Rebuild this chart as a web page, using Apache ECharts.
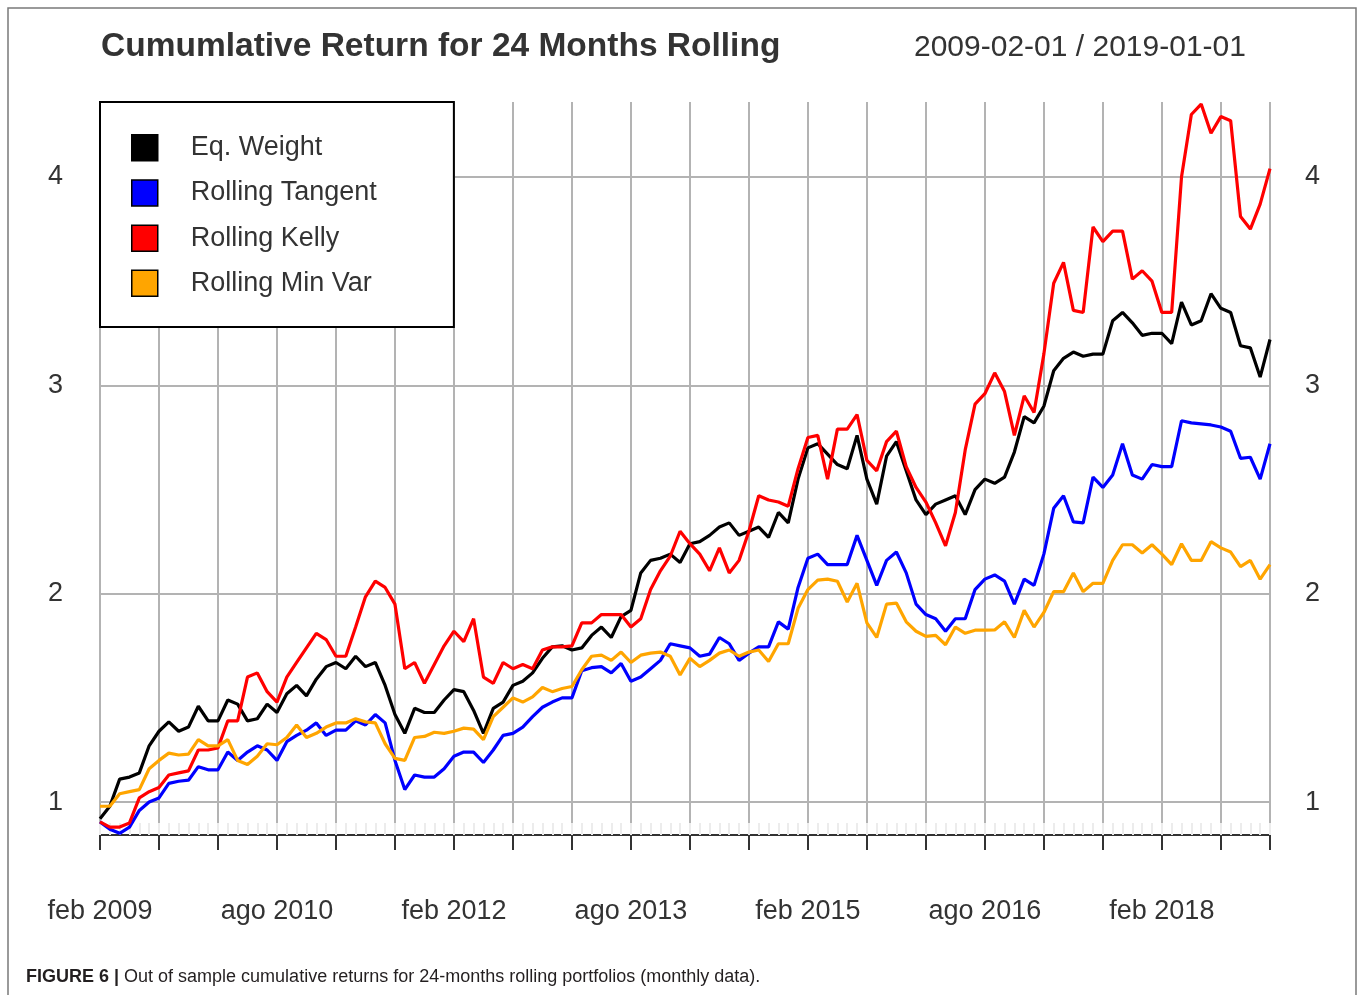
<!DOCTYPE html>
<html>
<head>
<meta charset="utf-8">
<title>Cumulative Return for 24 Months Rolling</title>
<script src="https://cdn.jsdelivr.net/npm/echarts@6/dist/echarts.min.js"></script>
<style>
  html, body { margin: 0; padding: 0; background: #fff; }
  #chart { width: 1357px; height: 995px; }
</style>
</head>
<body>
<div id="chart"></div>
<script>
// monthly observations, feb 2009 .. jan 2019 (120 points)
const eqWeight = [
  0.92, 0.98, 1.11, 1.12, 1.14, 1.27, 1.34, 1.385, 1.34, 1.36,
  1.46, 1.39, 1.39, 1.49, 1.47, 1.39, 1.40, 1.47, 1.43, 1.52,
  1.56, 1.51, 1.59, 1.65, 1.67, 1.64, 1.70, 1.65, 1.67, 1.56,
  1.42, 1.33, 1.45, 1.43, 1.43, 1.49, 1.54, 1.53, 1.44, 1.33,
  1.45, 1.48, 1.56, 1.58, 1.62, 1.69, 1.745, 1.75, 1.73, 1.74,
  1.80, 1.84, 1.79, 1.89, 1.92, 2.10, 2.16, 2.17, 2.19, 2.15,
  2.24, 2.25, 2.28, 2.32, 2.34, 2.28, 2.30, 2.32, 2.27, 2.39,
  2.34, 2.55, 2.70, 2.72, 2.67, 2.62, 2.60, 2.76, 2.55, 2.43,
  2.66, 2.73, 2.59, 2.45, 2.38, 2.43, 2.45, 2.47, 2.38, 2.50,
  2.55, 2.53, 2.56, 2.68, 2.85, 2.82, 2.90, 3.07, 3.13, 3.16,
  3.14, 3.15, 3.15, 3.31, 3.35, 3.30, 3.24, 3.25, 3.25, 3.20,
  3.40, 3.29, 3.31, 3.44, 3.37, 3.35, 3.19, 3.18, 3.04, 3.22
];
const rollingTangent = [
  0.905, 0.87, 0.85, 0.88, 0.96, 1.00, 1.02, 1.09, 1.10, 1.105,
  1.17, 1.155, 1.155, 1.24, 1.20, 1.24, 1.27, 1.25, 1.20, 1.29,
  1.32, 1.345, 1.38, 1.32, 1.345, 1.345, 1.39, 1.37, 1.42, 1.38,
  1.20, 1.06, 1.13, 1.12, 1.12, 1.16, 1.22, 1.24, 1.24, 1.19,
  1.25, 1.32, 1.33, 1.36, 1.41, 1.455, 1.48, 1.50, 1.50, 1.63,
  1.645, 1.65, 1.62, 1.665, 1.58, 1.60, 1.64, 1.68, 1.76, 1.75,
  1.74, 1.70, 1.71, 1.79, 1.76, 1.68, 1.715, 1.745, 1.745, 1.865,
  1.83, 2.03, 2.17, 2.19, 2.14, 2.14, 2.14, 2.28, 2.16, 2.04,
  2.16, 2.20, 2.10, 1.95, 1.90, 1.88, 1.82, 1.88, 1.88, 2.02,
  2.07, 2.09, 2.06, 1.95, 2.07, 2.04, 2.19, 2.41, 2.47, 2.345,
  2.34, 2.56, 2.51, 2.57, 2.72, 2.57, 2.55, 2.62, 2.61, 2.61,
  2.83, 2.82, 2.815, 2.81, 2.80, 2.78, 2.65, 2.655, 2.55, 2.72
];
const rollingKelly = [
  0.905, 0.88, 0.88, 0.90, 1.02, 1.05, 1.07, 1.13, 1.14, 1.15,
  1.25, 1.25, 1.26, 1.39, 1.39, 1.60, 1.62, 1.53, 1.48, 1.60,
  1.67, 1.74, 1.81, 1.78, 1.70, 1.70, 1.84, 1.985, 2.06, 2.03,
  1.95, 1.64, 1.67, 1.57, 1.66, 1.75, 1.82, 1.77, 1.88, 1.60,
  1.57, 1.67, 1.64, 1.66, 1.64, 1.73, 1.745, 1.745, 1.75, 1.86,
  1.86, 1.90, 1.90, 1.90, 1.84, 1.88, 2.02, 2.11, 2.18, 2.30,
  2.24, 2.19, 2.11, 2.22, 2.10, 2.16, 2.30, 2.47, 2.45, 2.44,
  2.42, 2.60, 2.75, 2.76, 2.55, 2.79, 2.79, 2.86, 2.64, 2.59,
  2.73, 2.78, 2.61, 2.51, 2.44, 2.34, 2.23, 2.39, 2.69, 2.91,
  2.96, 3.06, 2.97, 2.76, 2.95, 2.87, 3.15, 3.49, 3.59, 3.36,
  3.35, 3.76, 3.69, 3.74, 3.74, 3.51, 3.55, 3.50, 3.35, 3.35,
  4.00, 4.30, 4.35, 4.21, 4.29, 4.27, 3.81, 3.75, 3.87, 4.04
];
const rollingMinVar = [
  0.98, 0.98, 1.04, 1.05, 1.06, 1.16, 1.20, 1.235, 1.226, 1.23,
  1.30, 1.27, 1.27, 1.30, 1.20, 1.18, 1.22, 1.28, 1.275, 1.31,
  1.37, 1.31, 1.33, 1.36, 1.38, 1.38, 1.40, 1.385, 1.38, 1.28,
  1.21, 1.20, 1.31, 1.315, 1.335, 1.33, 1.34, 1.355, 1.35, 1.30,
  1.41, 1.455, 1.50, 1.48, 1.505, 1.55, 1.53, 1.545, 1.555, 1.635,
  1.70, 1.705, 1.68, 1.72, 1.67, 1.705, 1.715, 1.72, 1.70, 1.61,
  1.69, 1.65, 1.68, 1.715, 1.73, 1.70, 1.72, 1.73, 1.675, 1.76,
  1.76, 1.93, 2.02, 2.065, 2.07, 2.06, 1.96, 2.05, 1.86, 1.79,
  1.95, 1.955, 1.865, 1.82, 1.795, 1.80, 1.755, 1.84, 1.81, 1.825,
  1.825, 1.826, 1.865, 1.79, 1.92, 1.84, 1.91, 2.01, 2.01, 2.10,
  2.01, 2.05, 2.05, 2.16, 2.235, 2.235, 2.195, 2.235, 2.19, 2.14,
  2.24, 2.16, 2.16, 2.25, 2.22, 2.20, 2.13, 2.16, 2.07, 2.14
];

const seriesNames = ['Eq. Weight', 'Rolling Tangent', 'Rolling Kelly', 'Rolling Min Var'];
const seriesColors = ['#000000', '#0000ff', '#ff0000', '#ffa500'];
// x tick labels, one every 18 months starting at feb 2009
const tickLabels = ['feb 2009', 'ago 2010', 'feb 2012', 'ago 2013', 'feb 2015', 'ago 2016', 'feb 2018'];
const yTicks = [1, 2, 3, 4];

const FONT = "'Liberation Sans', Arial, sans-serif";
const TXT = '#333333';

const chart = echarts.init(document.getElementById('chart'), null, { renderer: 'canvas' });

const allSeries = [eqWeight, rollingTangent, rollingKelly, rollingMinVar];

const option = {
  animation: false,
  backgroundColor: '#ffffff',
  textStyle: { fontFamily: FONT },
  graphic: [{
    type: 'rect',
    shape: { x: 8, y: 8, width: 1348, height: 1000 },
    style: { fill: 'none', stroke: '#7a7a7a', lineWidth: 1.5 },
    silent: true
  }],
  title: [{
    text: 'Cumumlative Return for 24 Months Rolling',
    left: 96, top: 24,
    textStyle: { fontFamily: FONT, fontSize: 33.5, fontWeight: 'bold', color: TXT, lineHeight: 36 }
  }, {
    text: '2009-02-01 / 2019-01-01',
    left: 909, top: 27,
    textStyle: { fontFamily: FONT, fontSize: 30, fontWeight: 'normal', color: TXT, lineHeight: 32 }
  }, {
    text: '{b|FIGURE 6 |} {n|Out of sample cumulative returns for 24-months rolling portfolios (monthly data).}',
    left: 21, top: 963,
    textStyle: {
      rich: {
        b: { fontFamily: FONT, fontSize: 18, fontWeight: 'bold', color: '#231f20' },
        n: { fontFamily: FONT, fontSize: 18, fontWeight: 'normal', color: '#231f20' }
      }
    }
  }],
  legend: {
    orient: 'vertical',
    left: 100, top: 102,
    padding: [32, 77, 30, 31],
    backgroundColor: '#ffffff',
    borderColor: '#000000',
    borderWidth: 2,
    borderRadius: 0,
    itemWidth: 26, itemHeight: 26,
    itemGap: 17.7,
    icon: 'rect',
    itemStyle: { borderColor: '#000000', borderWidth: 1.5 },
    textStyle: { fontFamily: FONT, fontSize: 27, lineHeight: 26, color: TXT, padding: [0, 0, 0, 28] },
    data: seriesNames
  },
  grid: { left: 100, right: 87, top: 102, bottom: 160, containLabel: false },
  xAxis: [{
    type: 'value',
    min: 0, max: 119, interval: 6,
    position: 'bottom',
    axisLine: { show: true, lineStyle: { color: '#333333', width: 2 } },
    axisTick: { show: true, length: 15, lineStyle: { color: '#333333', width: 2 } },
    splitLine: { show: true, lineStyle: { color: '#b3b3b3', width: 2 } },
    axisLabel: {
      margin: 63,
      fontFamily: FONT, fontSize: 27, color: TXT,
      formatter: function (v) {
        return v % 18 === 0 ? (tickLabels[v / 18] || '') : '';
      }
    }
  }, {
    type: 'value',
    min: 0, max: 119, interval: 1,
    position: 'bottom',
    axisLine: { show: false },
    axisTick: { show: true, inside: true, length: 12, lineStyle: { color: '#ececec', width: 2 } },
    splitLine: { show: false },
    axisLabel: { show: false }
  }],
  yAxis: [{
    type: 'value',
    min: 0.842, max: 4.36,
    position: 'left',
    axisLine: { show: false },
    axisTick: { show: false, customValues: yTicks },
    splitLine: { show: true, lineStyle: { color: '#b3b3b3', width: 2 } },
    axisLabel: { customValues: yTicks, margin: 37, fontFamily: FONT, fontSize: 27, color: TXT }
  }, {
    type: 'value',
    min: 0.842, max: 4.36,
    position: 'right',
    axisLine: { show: false },
    axisTick: { show: false, customValues: yTicks },
    splitLine: { show: false },
    axisLabel: { customValues: yTicks, margin: 35, fontFamily: FONT, fontSize: 27, color: TXT }
  }],
  series: allSeries.map(function (vals, k) {
    return {
      name: seriesNames[k],
      type: 'line',
      xAxisIndex: 0,
      yAxisIndex: 0,
      data: vals.map(function (v, i) { return [i, v]; }),
      showSymbol: false,
      symbol: 'none',
      smooth: false,
      color: seriesColors[k],
      lineStyle: { color: seriesColors[k], width: 3.2 },
      emphasis: { disabled: true }
    };
  })
};

chart.setOption(option);
</script>
</body>
</html>
